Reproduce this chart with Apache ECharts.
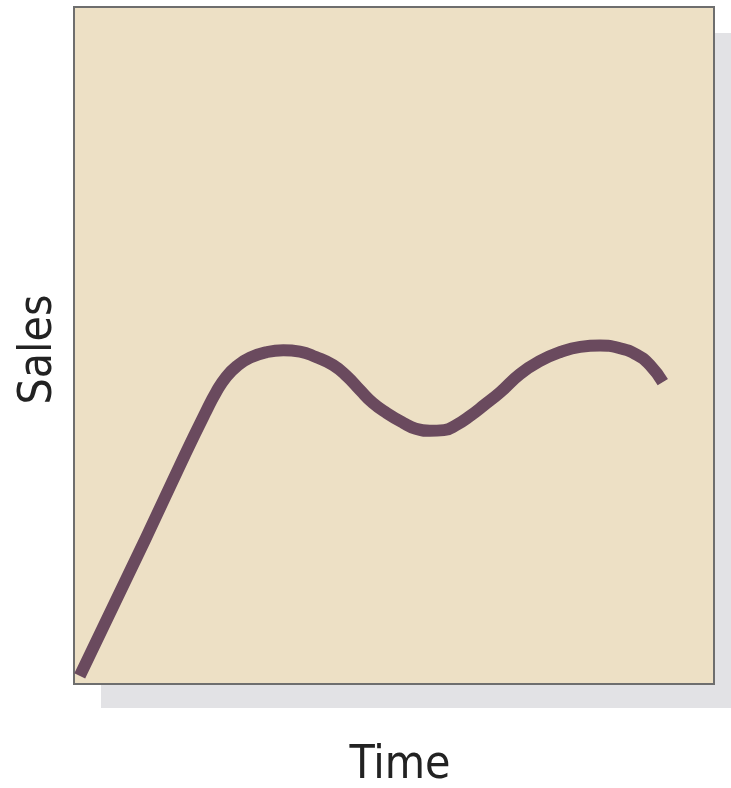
<!DOCTYPE html>
<html>
<head>
<meta charset="utf-8">
<script src="https://cdn.jsdelivr.net/npm/echarts@6/dist/echarts.min.js"></script>
<style>
  html, body { margin: 0; padding: 0; background: #ffffff; }
  #chart { width: 731px; height: 788px; }
</style>
</head>
<body>
<div id="chart"></div>
<script>
// sales curve over time (no units on the original, read as 0-100 of the plot box)
var timeValues = [0.9, 11.1, 17.3, 20.6, 22.2, 23.8, 25.5, 27.5, 30.0, 32.7, 35.3, 37.8, 40.5, 42.7, 44.7, 46.7, 48.9, 51.4, 53.4, 55.6, 57.8, 59.8, 61.9, 64.1, 66.6, 69.7, 72.8, 75.9, 79.1, 82.2, 85.3, 88.0, 90.0, 92.0];
var salesValues = [1.2, 21.3, 33.8, 40.2, 43.1, 45.4, 47.0, 48.2, 49.0, 49.3, 49.1, 48.3, 47.1, 45.4, 43.4, 41.5, 40.0, 38.6, 37.7, 37.4, 37.5, 38.3, 39.6, 41.2, 43.1, 45.8, 47.7, 49.0, 49.8, 50.0, 49.6, 48.6, 47.1, 44.6];

var points = [];
for (var i = 0; i < timeValues.length; i++) {
  points.push([timeValues[i], salesValues[i]]);
}

var nameFont = "'DejaVu Sans Condensed', 'Liberation Sans', Arial, sans-serif";

var myChart = echarts.init(document.getElementById("chart"));

var option = {
  backgroundColor: "#ffffff",
  // drop shadow behind the plot box
  graphic: [
    {
      type: "rect",
      z: -10,
      silent: true,
      shape: { x: 101, y: 33, width: 630, height: 675 },
      style: { fill: "#e2e2e5" }
    }
  ],
  grid: {
    left: 74,
    right: 17,
    top: 7,
    bottom: 104,
    outerBoundsMode: "none",
    containLabel: false,
    show: true,
    backgroundColor: "#ede0c5",
    borderColor: "#6e6e6e",
    borderWidth: 2
  },
  xAxis: {
    type: "value",
    min: 0,
    max: 100,
    name: "Time",
    nameLocation: "middle",
    nameGap: 59,
    nameTextStyle: {
      fontFamily: nameFont,
      fontSize: 46,
      color: "#222222",
      padding: [0, 0, 0, 12]
    },
    axisLine: { show: false },
    axisTick: { show: false },
    axisLabel: { show: false },
    splitLine: { show: false }
  },
  yAxis: {
    type: "value",
    min: 0,
    max: 100,
    name: "Sales",
    nameLocation: "middle",
    nameGap: 12,
    nameTextStyle: {
      fontFamily: nameFont,
      fontSize: 46,
      color: "#222222",
      padding: [0, 8, 0, 0]
    },
    axisLine: { show: false },
    axisTick: { show: false },
    axisLabel: { show: false },
    splitLine: { show: false }
  },
  series: [
    {
      type: "line",
      data: points,
      smooth: 0.5,
      symbol: "none",
      lineStyle: {
        color: "#6a4a5e",
        width: 12,
        cap: "butt",
        join: "round"
      }
    }
  ]
};

myChart.setOption(option);
</script>
</body>
</html>
